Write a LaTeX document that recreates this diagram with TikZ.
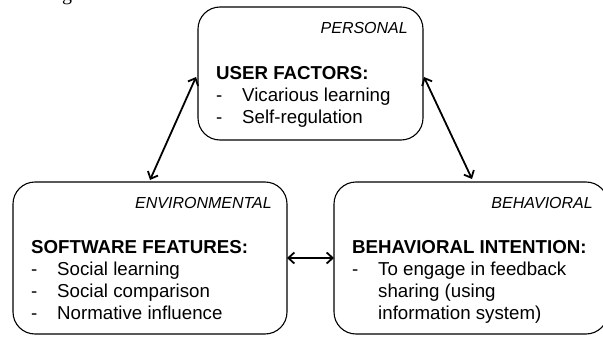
\documentclass[tikz,border=0pt]{standalone}
\usepackage{fontspec}
\setmainfont{Liberation Sans}
\newfontfamily\serifcap{Liberation Serif}
\usetikzlibrary{calc,arrows.meta}
\begin{document}
\begin{tikzpicture}[x=1pt,y=-1pt,
  box/.style={draw, line width=1.1pt, rounded corners=22pt, anchor=north west, inner sep=0pt, outer sep=0pt},
  tag/.style={font=\fontsize{16}{19}\selectfont\itshape, anchor=base east, inner sep=0pt},
  hdr/.style={font=\fontsize{18.7}{22}\selectfont\bfseries, anchor=base west, inner sep=0pt},
  item/.style={font=\fontsize{18.7}{22}\selectfont, anchor=base west, inner sep=0pt},
  conn/.style={line width=1.8pt, {Straight Barb[length=6pt,width=11pt]}-{Straight Barb[length=6pt,width=11pt]}}
]
\useasboundingbox (0,0) rectangle (603,337);
\clip (0,0) rectangle (603,337);

% cut-off caption fragment
\node[font=\serifcap\fontsize{20}{24}\selectfont, anchor=base west, inner sep=0pt] (capg) at (62,0.5) {g};

% boxes
\node[box, minimum width=225pt, minimum height=133pt] (tb) at (198,7) {};
\node[box, minimum width=274pt, minimum height=152pt] (lb) at (13,182) {};
\node[box, minimum width=274pt, minimum height=152pt] (rb) at (334,182) {};

% top box text
\node[tag] (tbt) at ($(tb.north east)+(-15,27)$) {PERSONAL};
\node[hdr] (tbh) at ($(tb.north west)+(18,73)$) {USER FACTORS:};
\node[item] (tbd1) at ($(tb.north west)+(18,95)$) {-};
\node[item] (tbi1) at ($(tb.north west)+(44,95)$) {Vicarious learning};
\node[item] (tbd2) at ($(tb.north west)+(18,117)$) {-};
\node[item] (tbi2) at ($(tb.north west)+(44,117)$) {Self-regulation};

% left box text
\node[tag] (lbt) at ($(lb.north east)+(-15,26)$) {ENVIRONMENTAL};
\node[hdr] (lbh) at ($(lb.north west)+(18,71)$) {SOFTWARE FEATURES:};
\node[item] (lbd1) at ($(lb.north west)+(18,93)$) {-};
\node[item] (lbi1) at ($(lb.north west)+(44,93)$) {Social learning};
\node[item] (lbd2) at ($(lb.north west)+(18,115)$) {-};
\node[item] (lbi2) at ($(lb.north west)+(44,115)$) {Social comparison};
\node[item] (lbd3) at ($(lb.north west)+(18,137)$) {-};
\node[item] (lbi3) at ($(lb.north west)+(44,137)$) {Normative influence};

% right box text
\node[tag] (rbt) at ($(rb.north east)+(-15,26)$) {BEHAVIORAL};
\node[hdr] (rbh) at ($(rb.north west)+(18,71)$) {BEHAVIORAL INTENTION:};
\node[item] (rbd1) at ($(rb.north west)+(18,93)$) {-};
\node[item] (rbi1) at ($(rb.north west)+(44,93)$) {To engage in feedback};
\node[item] (rbi2) at ($(rb.north west)+(44,115)$) {sharing (using};
\node[item] (rbi3) at ($(rb.north west)+(44,137)$) {information system)};

% connectors
\draw[conn] ($(lb.north west)+(137,-2)$) -- ($(tb.north west)+(-2,70)$);
\draw[conn] ($(tb.north east)+(1,70)$) -- ($(rb.north west)+(138,-3)$);
\draw[conn] (lb.east) -- (rb.west);
\end{tikzpicture}
\end{document}
